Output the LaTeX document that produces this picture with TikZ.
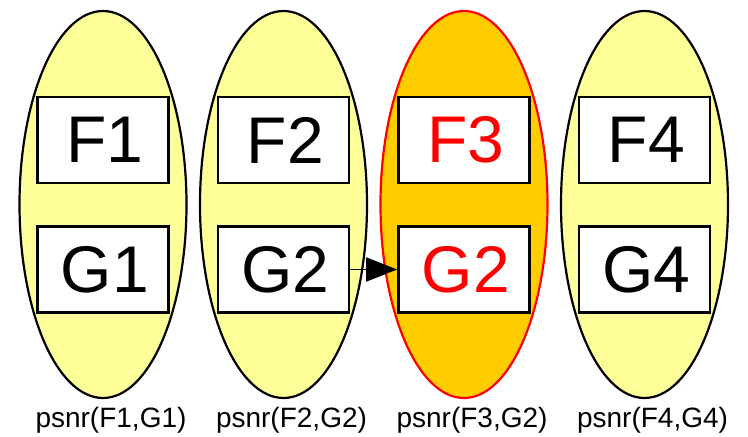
\documentclass[tikz,border=0pt]{standalone}
\usepackage{fontspec}
\setmainfont{Liberation Sans}
\usetikzlibrary{shapes.geometric,arrows.meta}
\definecolor{paleyellow}{HTML}{FFFF99}
\definecolor{amber}{HTML}{FFCC00}
\begin{document}
\begin{tikzpicture}[x=1pt,y=-1pt,
  blob/.style={ellipse, draw=black, line width=2.2pt, fill=paleyellow,
    minimum width=167pt, minimum height=387pt, inner sep=0pt},
  hotblob/.style={blob, draw=red, fill=amber},
  frame/.style={rectangle, draw=black, line width=2.6pt, fill=white,
    minimum width=131pt, minimum height=86pt, inner sep=0pt,
    font=\fontsize{66}{66}\selectfont},
  hot/.style={text=red},
  caption/.style={font=\fontsize{28}{28}\selectfont},
  link/.style={-{Triangle[length=31pt,width=24pt]}, line width=1.8pt}]
\useasboundingbox (0,0) rectangle (748,437);

% four groups, each an ellipse holding an F and a G frame
\node[blob] (e1) at (103,204.5) {};
\node[blob] (e2) at (283.5,204.5) {};
\node[hotblob] (e3) at (464,204.5) {};
\node[blob] (e4) at (644.5,204.5) {};

\node[frame] (f1) at (103,140) {\hspace{4pt}F1};
\node[frame] (g1) at (103,269.5) {\hspace{4pt}G1};
\node[frame] (f2) at (283.5,140) {\hspace{4pt}F2};
\node[frame] (g2) at (283.5,269.5) {\hspace{4pt}G2};
\node[frame,hot] (f3) at (464,140) {\hspace{4pt}F3};
\node[frame,hot] (g3) at (464,269.5) {\hspace{4pt}G2};
\node[frame] (f4) at (644.5,140) {\hspace{4pt}F4};
\node[frame] (g4) at (644.5,269.5) {\hspace{4pt}G4};

% captions below the groups
\node[caption] (c1) at (111,420) {psnr(F1,G1)};
\node[caption] (c2) at (291.5,420) {psnr(F2,G2)};
\node[caption] (c3) at (472,420) {psnr(F3,G2)};
\node[caption] (c4) at (652.5,420) {psnr(F4,G4)};

% G2 carried over into the third group
\draw[link] (g2.east) -- (g3.west);
\end{tikzpicture}
\end{document}
